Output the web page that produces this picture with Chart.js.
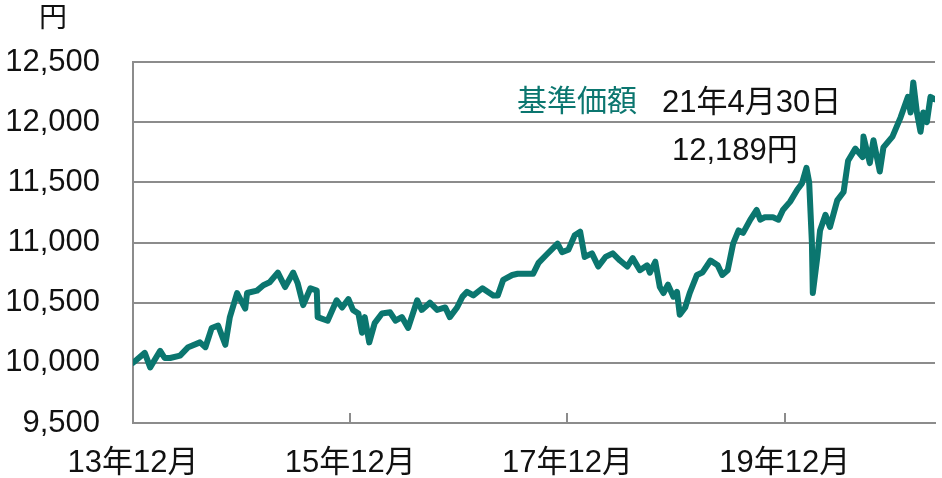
<!DOCTYPE html>
<html>
<head>
<meta charset="utf-8">
<script src="https://cdn.jsdelivr.net/npm/chart.js@4"></script>
<style>
  body { margin: 0; background: #fff; }
  #navChart { display: block; }
</style>
</head>
<body>
<canvas id="navChart" width="942" height="478"></canvas>
<script>
// months since 13年12月
const months = [0,1.3,1.9,3.0,3.5,4.1,5.2,6.1,7.4,8.0,8.7,9.4,10.2,10.7,11.5,12.4,12.6,13.7,14.4,15.1,16.0,16.8,17.7,18.2,18.8,19.6,20.3,20.4,21.5,22.5,23.1,23.8,24.3,24.9,25.3,25.6,26.1,26.7,27.5,28.4,29.0,29.7,30.4,31.4,31.9,32.8,33.6,34.5,35.0,35.8,36.4,36.9,37.6,38.6,39.8,40.3,40.9,41.9,42.5,43.3,44.2,44.8,45.7,46.9,47.4,48.1,48.8,49.4,49.9,50.7,51.4,52.2,53.0,53.8,54.6,55.2,56.0,56.8,57.1,57.7,58.2,58.6,59.1,59.7,60.1,60.4,61.0,61.5,62.3,62.9,63.8,64.6,65.1,65.7,66.3,66.9,67.4,68.2,68.9,69.3,69.8,70.7,71.3,71.8,72.6,73.4,73.9,74.4,74.7,75.0,75.1,75.6,75.9,76.5,77.0,77.8,78.5,79.0,79.8,80.6,80.7,81.4,81.8,82.5,82.9,83.9,84.8,85.6,85.9,86.2,86.6,87.0,87.3,87.7,88.1,88.6];
// 基準価額 (円)
const navValues = [10000,10083,9962,10100,10040,10040,10060,10130,10170,10130,10290,10310,10150,10380,10580,10450,10580,10600,10645,10670,10750,10630,10750,10660,10480,10620,10600,10380,10350,10520,10460,10530,10440,10410,10250,10380,10170,10330,10410,10420,10350,10380,10290,10520,10440,10500,10440,10460,10380,10460,10550,10590,10560,10620,10560,10560,10690,10730,10740,10740,10740,10830,10900,10990,10920,10940,11060,11090,10880,10910,10800,10880,10910,10850,10800,10870,10770,10810,10750,10840,10630,10580,10650,10550,10590,10400,10460,10580,10730,10750,10850,10810,10730,10770,10990,11100,11080,11190,11270,11190,11210,11210,11190,11270,11340,11440,11490,11620,11500,11000,10580,10880,11100,11230,11130,11350,11420,11680,11780,11710,11880,11660,11850,11590,11790,11880,12040,12210,12080,12330,12080,11920,12080,12000,12210,12189];
const xTickMonths = [0, 24, 48, 72];
const xTickLabels = ["13年12月", "15年12月", "17年12月", "19年12月"];
const yTicks = [9500, 10000, 10500, 11000, 11500, 12000, 12500];

const teal = "#0b766f";
const gridGray = "#8c8c8c";
const fontFamily = "'Liberation Sans', 'Noto Sans CJK JP', sans-serif";

// tick marks pointing up into the plot, plus the texts
const extras = {
    id: "extras",
    afterDraw(chart) {
        const ctx = chart.ctx;
        const x = chart.scales.x;
        const bottom = chart.chartArea.bottom;
        ctx.save();
        ctx.strokeStyle = gridGray;
        ctx.lineWidth = 2;
        xTickMonths.forEach(function(m) {
            const px = Math.round(x.getPixelForValue(m));
            ctx.beginPath();
            ctx.moveTo(px, bottom);
            ctx.lineTo(px, bottom - 10);
            ctx.stroke();
        });

        ctx.textBaseline = "middle";
        ctx.fillStyle = "#111";
        ctx.font = "28px " + fontFamily;
        ctx.textAlign = "center";
        ctx.fillText("円", 53, 19);

        ctx.textAlign = "left";
        ctx.font = "30px " + fontFamily;
        ctx.fillStyle = teal;
        ctx.fillText("基準価額", 517, 103);
        ctx.fillStyle = "#111";
        ctx.font = "31px " + fontFamily;
        ctx.fillText("21年4月30日", 662, 103);
        ctx.fillText("12,189円", 672, 151);
        ctx.restore();
    }
};

window.onload = function() {
    const context = document.getElementById("navChart").getContext("2d");
    new Chart(context, {
        type: "line",
        data: {
            datasets: [{
                label: "基準価額",
                data: months.map((m, i) => ({ x: m, y: navValues[i] })),
                borderColor: teal,
                borderWidth: 6,
                borderJoinStyle: "round",
                borderCapStyle: "round",
                pointRadius: 0,
                tension: 0,
                fill: false
            }]
        },
        options: {
            responsive: false,
            animation: false,
            devicePixelRatio: 1,
            layout: { padding: { top: 62, right: 7, left: 0, bottom: 0 } },
            plugins: { legend: { display: false }, tooltip: { enabled: false } },
            scales: {
                x: {
                    type: "linear",
                    min: 0,
                    max: 88.6,
                    afterBuildTicks: function(scale) {
                        scale.ticks = xTickMonths.map(v => ({ value: v }));
                    },
                    afterFit: function(scale) { scale.height = 55; },
                    grid: { display: false },
                    border: { display: true, color: gridGray, width: 2 },
                    ticks: {
                        autoSkip: false,
                        maxRotation: 0,
                        padding: 14,
                        color: "#111",
                        font: { family: fontFamily, size: 31 },
                        callback: function(value) {
                            const i = xTickMonths.indexOf(value);
                            return i >= 0 ? xTickLabels[i] : "";
                        }
                    }
                },
                y: {
                    min: 9500,
                    max: 12500,
                    afterBuildTicks: function(scale) {
                        scale.ticks = yTicks.map(v => ({ value: v }));
                    },
                    afterFit: function(scale) { scale.width = 133; },
                    grid: { color: gridGray, lineWidth: 2, drawTicks: false },
                    border: { display: true, color: gridGray, width: 2 },
                    ticks: {
                        padding: 33,
                        color: "#111",
                        font: { family: fontFamily, size: 31 },
                        callback: function(value) {
                            return value.toLocaleString("en-US");
                        }
                    }
                }
            }
        },
        plugins: [extras]
    });
};
</script>
</body>
</html>
